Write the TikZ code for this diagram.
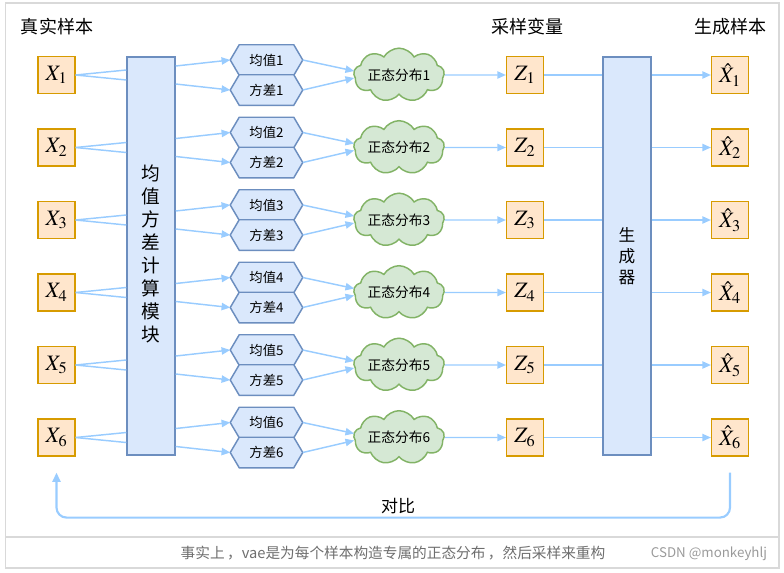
\documentclass[tikz,border=0pt]{standalone}
\usepackage{mathptmx}
\usepackage{fontspec}
\setmainfont{Noto Sans CJK SC}
\usetikzlibrary{shapes.symbols,calc,arrows.meta}
\pgfdeclarelayer{background}
\pgfsetlayers{background,main}
\definecolor{ofill}{HTML}{FFE6CC}
\definecolor{odraw}{HTML}{D79B00}
\definecolor{bfill}{HTML}{DAE8FC}
\definecolor{bdraw}{HTML}{6C8EBF}
\definecolor{gfill}{HTML}{D5E8D4}
\definecolor{gdraw}{HTML}{82B366}
\definecolor{lnk}{HTML}{99CCFF}
\definecolor{frm}{HTML}{D9D9D9}
\definecolor{captxt}{HTML}{6E6E6E}
\definecolor{csdntxt}{HTML}{9A9A9A}
\tikzset{
  obox/.style={draw=odraw, fill=ofill, line width=1.1pt, minimum width=27.5pt, minimum height=27.5pt, inner sep=0pt, font=\fontsize{16.5}{18}\selectfont},
  bigbox/.style={draw=bdraw, fill=bfill, line width=1.1pt, minimum width=36pt, minimum height=298.5pt, inner sep=0pt},
  hexnode/.style={minimum width=54pt, minimum height=22.5pt, inner sep=0pt, font=\fontsize{10}{12}\selectfont},
  hexline/.style={draw=bdraw, fill=bfill, line width=1.1pt, line join=miter},
  cloudnode/.style={cloud, cloud puffs=9, cloud puff arc=120, aspect=2.3, draw=gdraw, fill=gfill, line width=1.1pt, minimum width=68pt, minimum height=29pt, inner sep=0pt, font=\fontsize{10.3}{12}\selectfont},
  link/.style={draw=lnk, line width=1.1pt},
  arr/.style={link, -{Triangle[length=6.5pt,width=5.5pt]}},
  fb/.style={draw=lnk, line width=1.6pt, rounded corners=7.5pt, -{Triangle[length=7pt,width=6pt]}},
  ttl/.style={font=\fontsize{13.5}{16}\selectfont, inner sep=0pt},
}
\newcommand{\hexdraw}[1]{%
  \begin{pgfonlayer}{background}
  \path[hexline] (#1.west) -- ([xshift=6.75pt]#1.north west) -- ([xshift=-6.75pt]#1.north east) -- (#1.east) -- ([xshift=-6.75pt]#1.south east) -- ([xshift=6.75pt]#1.south west) -- cycle;
  \end{pgfonlayer}}
\begin{document}
\begin{tikzpicture}[x=0.75pt, y=-0.75pt]
\useasboundingbox (0,0) rectangle (784,572);
% frame
\draw[frm, line width=0.9pt] (5.5,3) rectangle (779,568);
\draw[frm, line width=0.9pt] (5.5,537) -- (779,537);
% titles
\node[ttl] (t1) at (57,27) {真实样本};
\node[ttl] (t2) at (527,27) {采样变量};
\node[ttl] (t3) at (730,27) {生成样本};
% big boxes
\node[bigbox] (mod) at (151,256) {};
\node[font=\fontsize{14}{17.25}\selectfont, align=center] (modt) at (151,254) {均\\值\\方\\差\\计\\算\\模\\块};
\node[bigbox] (gen) at (627,256) {};
\node[font=\fontsize{12.5}{15.75}\selectfont, align=center] (gent) at (627,256) {生\\成\\器};
\foreach \i in {1,...,6}{
  \pgfmathsetmacro{\yy}{75+72.5*(\i-1)}
  \node[obox] (x\i) at (56.5,\yy) {$X_{\i}$};
  \node[hexnode] (m\i) at (266.5,\yy-15) {均值\i};
  \hexdraw{m\i}
  \node[hexnode] (v\i) at (266.5,\yy+15) {方差\i};
  \hexdraw{v\i}
  \node[cloudnode] (c\i) at (399,\yy) {正态分布\i};
  \node[obox] (z\i) at (525,\yy) {$Z_{\i}$};
  \node[obox] (xh\i) at (730,\yy) {$\hat{X}_{\i}$};
  \draw[link] (x\i.east) -- ($(mod.west |- x\i)+(0,-5)$);
  \draw[link] (x\i.east) -- ($(mod.west |- x\i)+(0,5)$);
  \draw[arr] ($(mod.east |- m\i)+(0,6)$) -- (m\i.west);
  \draw[arr] ($(mod.east |- v\i)+(0,-6)$) -- (v\i.west);
  \draw[arr] (m\i.east) -- ($(c\i.west)+(1,-4)$);
  \draw[arr] (v\i.east) -- ($(c\i.west)+(1,3)$);
  \draw[arr] (c\i.east) -- (z\i.west);
  \draw[link] (z\i.east) -- (gen.west |- z\i);
  \draw[arr] (gen.east |- xh\i) -- (xh\i.west);
}
% feedback
\coordinate (fbs) at ($(xh6.south)+(0,16)$);
\coordinate (fbe) at ($(x6.south)+(0,16)$);
\draw[fb] (fbs) -- ++(0,45) -| (fbe);
\node[font=\fontsize{12.75}{15}\selectfont] (cmp) at (398,506) {对比};
% caption
\node[font=\fontsize{11}{13}\selectfont, text=captxt] (cap) at (393,553) {事实上\,，vae是为每个样本构造专属的正态分布\,，然后采样来重构};
\node[font=\fontsize{10}{12}\selectfont, text=csdntxt] (csdn) at (709,554) {CSDN @monkeyhlj};
\end{tikzpicture}
\end{document}
